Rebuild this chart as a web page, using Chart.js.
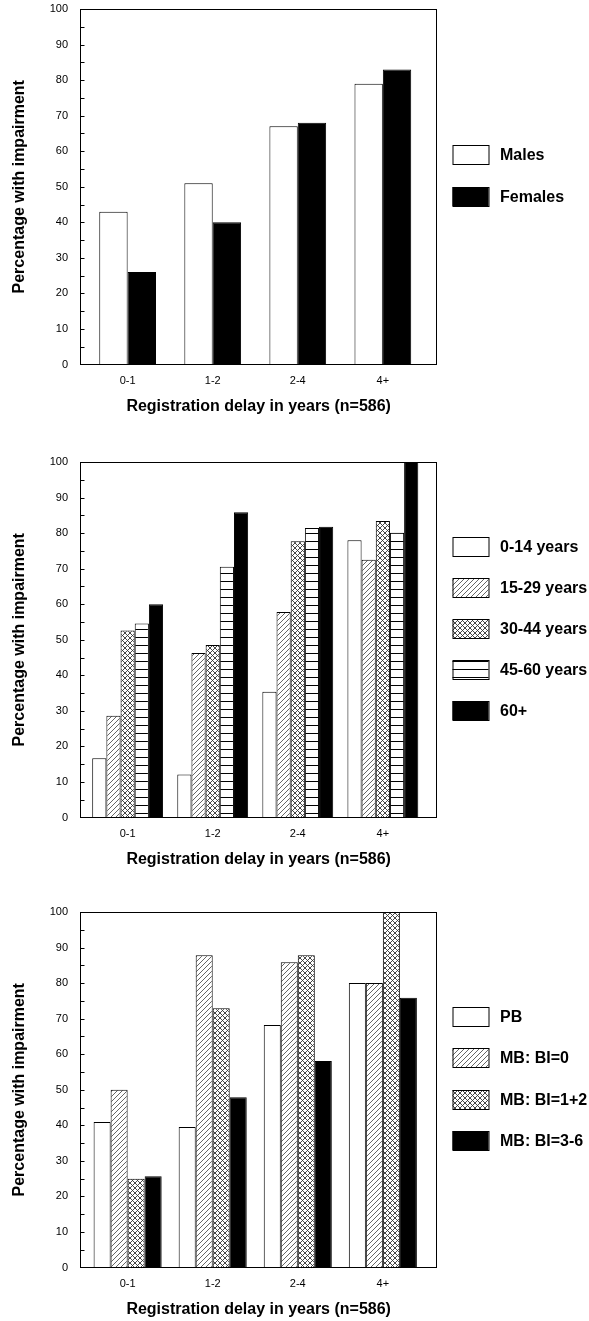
<!DOCTYPE html>
<html><head><meta charset="utf-8">
<script src="https://cdn.jsdelivr.net/npm/chart.js@4.4.0/dist/chart.umd.min.js"></script>
<style>
html,body{margin:0;padding:0;background:#fff;width:589px;height:1321px;overflow:hidden;position:relative;}
canvas{position:absolute;left:0;}
</style></head><body>
<canvas id="c1" width="589" height="418" style="top:0px"></canvas>
<canvas id="c2" width="589" height="418" style="top:453px"></canvas>
<canvas id="c3" width="589" height="418" style="top:903px"></canvas>
<script>
// ---- data ----
const categories = ['0-1', '1-2', '2-4', '4+'];
const yTickValues = [0, 10, 20, 30, 40, 50, 60, 70, 80, 90, 100];
const yTitle = 'Percentage with impairment';
const xTitle = 'Registration delay in years (n=586)';

const sexLabels = ['Males', 'Females'];
const males = [43, 51, 67, 79];
const females = [26, 40, 68, 83];

const ageLabels = ['0-14 years', '15-29 years', '30-44 years', '45-60 years', '60+'];
const age0to14 = [16.7, 12.1, 35.4, 78.0];
const age15to29 = [28.6, 46.3, 57.8, 72.5];
const age30to44 = [52.6, 48.5, 77.7, 83.4];
const age45to60 = [54.6, 70.5, 81.4, 80.1];
const age60plus = [60.0, 85.9, 81.8, 100];

const typeLabels = ['PB', 'MB: BI=0', 'MB: BI=1+2', 'MB: BI=3-6'];
const pb = [40.9, 39.5, 68.2, 80.0];
const mbBI0 = [50.0, 87.8, 85.9, 80.0];
const mbBI12 = [25.0, 72.9, 87.8, 100];
const mbBI36 = [25.7, 47.9, 58.1, 75.9];

// ---- patterns ----
function makePattern(kind) {
  if (kind === 'white') return '#ffffff';
  if (kind === 'black') return '#000000';
  const c = document.createElement('canvas');
  const x = c.getContext('2d');
  if (kind === 'diag') {
    const s = 5; c.width = s; c.height = s;
    x.fillStyle = '#fff'; x.fillRect(0, 0, s, s);
    x.strokeStyle = '#555'; x.lineWidth = 0.9;
    x.beginPath();
    x.moveTo(0, s); x.lineTo(s, 0);
    x.moveTo(-1, 1); x.lineTo(1, -1);
    x.moveTo(s - 1, s + 1); x.lineTo(s + 1, s - 1);
    x.stroke();
  } else if (kind === 'cross') {
    const s = 5; c.width = s; c.height = s;
    x.fillStyle = '#fff'; x.fillRect(0, 0, s, s);
    x.strokeStyle = '#333'; x.lineWidth = 0.9;
    x.beginPath();
    x.moveTo(0, s); x.lineTo(s, 0);
    x.moveTo(-1, 1); x.lineTo(1, -1);
    x.moveTo(s - 1, s + 1); x.lineTo(s + 1, s - 1);
    x.moveTo(0, 0); x.lineTo(s, s);
    x.moveTo(-1, s - 1); x.lineTo(1, s + 1);
    x.moveTo(s - 1, -1); x.lineTo(s + 1, 1);
    x.stroke();
  } else if (kind === 'horiz') {
    c.width = 8; c.height = 8;
    x.fillStyle = '#fff'; x.fillRect(0, 0, 8, 8);
    x.fillStyle = '#000'; x.fillRect(0, 0, 8, 1);
  }
  return x.createPattern(c, 'repeat');
}

const FONT = "'Liberation Sans', Arial, Helvetica, sans-serif";

const framePlugin = {
  id: 'frame',
  afterDraw(chart) {
    const ctx = chart.ctx, a = chart.chartArea, ys = chart.scales.y;
    ctx.save();
    ctx.strokeStyle = '#000'; ctx.lineWidth = 1;
    const l = Math.round(a.left) + 0.5, r = Math.round(a.right) - 0.5;
    const t = Math.round(a.top) + 0.5, b = Math.round(a.bottom) - 0.5;
    ctx.strokeRect(l, t, r - l, b - t);
    // inward minor ticks every 5
    ctx.beginPath();
    for (let v = 5; v < 100; v += 5) {
      const y = Math.round(ys.getPixelForValue(v)) + 0.5;
      ctx.moveTo(l, y); ctx.lineTo(l + 4, y);
    }
    ctx.stroke();
    // legend
    const ds = chart.data.datasets;
    const n = ds.length, spacing = 41.2, bh = 19, bw = 36;
    const cy = (a.top + a.bottom) / 2 - 11.3;
    const top0 = cy - ((n - 1) * spacing + bh) / 2;
    const bx = 452.5, tx = 500;
    ctx.font = 'bold 16px ' + FONT;
    ctx.textBaseline = 'middle';
    ctx.textAlign = 'left';
    ds.forEach((d, i) => {
      const by = Math.round(top0 + i * spacing);
      ctx.fillStyle = d.backgroundColor;
      ctx.fillRect(bx, by, bw, bh);
      ctx.strokeStyle = '#000';
      ctx.strokeRect(bx + 0.5, by + 0.5, bw, bh);
      ctx.fillStyle = '#000';
      ctx.fillText(d.label, tx, by + bh / 2 + 1);
    });
    ctx.restore();
  }
};

function makeChart(id, labels, series, kinds, groupPct) {
  const datasets = series.map((vals, i) => ({
    label: labels[i],
    data: vals.map((v, j) => ({ x: j, y: v })),
    backgroundColor: makePattern(kinds[i]),
    borderColor: '#000',
    borderWidth: 1,
    categoryPercentage: groupPct,
    barPercentage: 1.0
  }));
  return new Chart(document.getElementById(id), {
    type: 'bar',
    data: { datasets },
    plugins: [framePlugin],
    options: {
      responsive: false,
      animation: false,
      devicePixelRatio: 1,
      layout: { padding: { top: 9, left: 0, right: 151.7, bottom: 0 } },
      plugins: { legend: { display: false }, tooltip: { enabled: false } },
      scales: {
        x: {
          type: 'linear',
          min: -0.56, max: 3.64,
          offset: false,
          afterBuildTicks(s) { s.ticks = categories.map((c, i) => ({ value: i })); },
          afterFit(s) { s.height = 418 - 9 - 355.5; s.paddingLeft = 0; s.paddingRight = 0; },
          grid: { display: false, drawTicks: false, offset: false },
          border: { display: false },
          ticks: {
            padding: 10,
            color: '#000',
            font: { family: FONT, size: 11 },
            maxRotation: 0,
            callback: (v) => categories[v] ?? ''
          },
          title: {
            display: true, text: xTitle, color: '#000',
            font: { family: FONT, size: 16, weight: 'bold' },
            padding: { top: 0, bottom: 2 }
          }
        },
        y: {
          min: 0, max: 100,
          afterBuildTicks(s) { s.ticks = yTickValues.map(v => ({ value: v })); },
          afterFit(s) { s.width = 80; s.paddingTop = 0; s.paddingBottom = 0; },
          grid: { display: false, drawTicks: false },
          border: { display: false },
          ticks: {
            padding: 12,
            color: '#000',
            font: { family: FONT, size: 11 }
          },
          title: {
            display: true, text: yTitle, color: '#000',
            font: { family: FONT, size: 16, weight: 'bold' },
            padding: { top: 10, bottom: 0 }
          }
        }
      }
    }
  });
}

makeChart('c1', sexLabels, [males, females], ['white', 'black'], 0.667);
makeChart('c2', ageLabels, [age0to14, age15to29, age30to44, age45to60, age60plus],
  ['white', 'diag', 'cross', 'horiz', 'black'], 0.833);
makeChart('c3', typeLabels, [pb, mbBI0, mbBI12, mbBI36],
  ['white', 'diag', 'cross', 'black'], 0.80);
</script>
</body></html>
